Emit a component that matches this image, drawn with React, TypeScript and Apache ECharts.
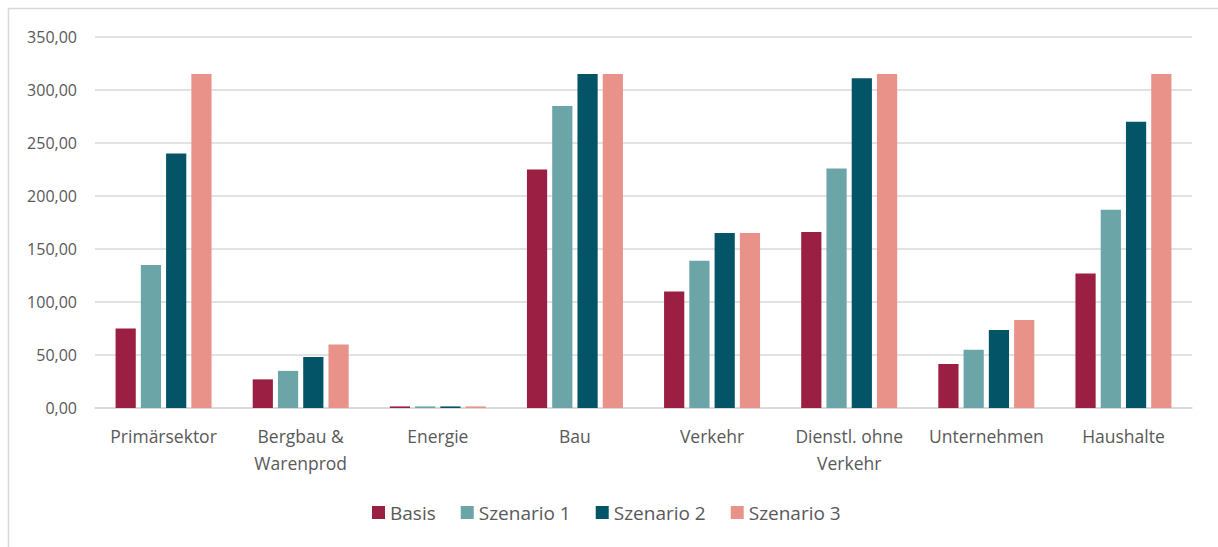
import React, { useEffect, useRef } from "react";
import * as echarts from "echarts";

const categories = ["Primärsektor", "Bergbau &\nWarenprod", "Energie", "Bau", "Verkehr", "Dienstl. ohne\nVerkehr", "Unternehmen", "Haushalte"];
const basis = [75, 27, 1.5, 225, 110, 166, 41.5, 127];
const szenario1 = [135, 35, 1.5, 285, 139, 226, 55, 187];
const szenario2 = [240, 48, 1.5, 315, 165, 311, 73.5, 270];
const szenario3 = [315, 60, 1.5, 315, 165, 315, 83, 315];
const seriesNames = ["Basis", "Szenario 1", "Szenario 2", "Szenario 3"];
const colors = ["#9B1F42", "#6BA5A7", "#035467", "#E8928A"];

export default function App() {
  const ref = useRef<HTMLDivElement>(null);
  useEffect(() => {
    if (!ref.current) return;
    const chart = echarts.init(ref.current, undefined, { renderer: "svg" });
    const data = [basis, szenario1, szenario2, szenario3];
    const font = "'Open Sans', 'Liberation Sans', sans-serif";
    chart.setOption({
      animation: false,
      textStyle: { fontFamily: font },
      graphic: [
        {
          type: "rect",
          shape: { x: 8.5, y: 8.5, width: 1230, height: 560 },
          style: { fill: "none", stroke: "#D9D9D9", lineWidth: 1.5 },
          silent: true,
        },
      ],
      grid: { left: 95, right: 26, top: 37, bottom: 139, containLabel: false },
      legend: {
        data: seriesNames,
        bottom: 20,
        left: 367,
        itemWidth: 13,
        itemHeight: 13,
        itemGap: 25,
        icon: "rect",
        textStyle: { color: "#595959", fontSize: 19, fontFamily: font },
      },
      xAxis: {
        type: "category",
        data: categories,
        axisLine: { lineStyle: { color: "#D9D9D9", width: 1.5 } },
        axisTick: { show: false },
        axisLabel: {
          color: "#595959",
          fontSize: 17.5,
          lineHeight: 27,
          margin: 14,
          interval: 0,
          fontFamily: font,
        },
      },
      yAxis: {
        type: "value",
        min: 0,
        max: 350,
        interval: 50,
        axisLine: { show: false },
        axisTick: { show: false },
        splitLine: { lineStyle: { color: "#D9D9D9", width: 1.5 } },
        axisLabel: {
          color: "#595959",
          fontSize: 16,
          margin: 18,
          fontFamily: font,
          formatter: (v: number) => v.toFixed(2).replace(".", ","),
        },
      },
      series: seriesNames.map((name, i) => ({
        name,
        type: "bar",
        data: data[i],
        barGap: "25%",
        barCategoryGap: "30%",
        itemStyle: { color: colors[i] },
      })),
    });
    return () => chart.dispose();
  }, []);
  return (
    <div
      ref={ref}
      style={{ position: "fixed", left: 0, top: 0, width: 1218, height: 547, background: "#fff" }}
    />
  );
}
